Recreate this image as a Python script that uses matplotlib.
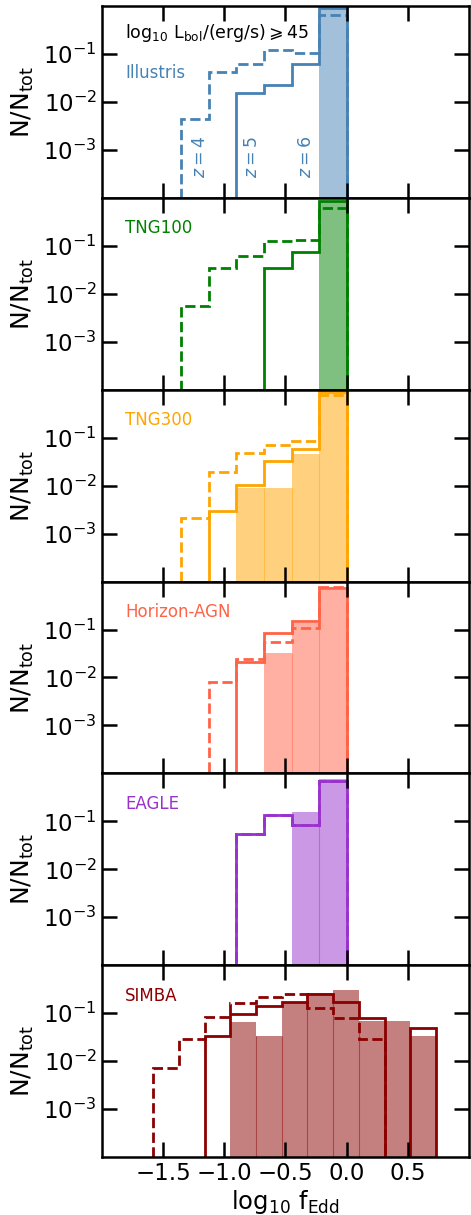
import numpy as np
from matplotlib import pyplot as plt

# bin edges in log10 f_Edd
edges_a = [-1.35, -1.125, -0.9, -0.675, -0.45, -0.225, 0.0]
edges_simba = [-1.58, -1.37, -1.16, -0.95, -0.74, -0.53, -0.32,
               -0.11, 0.10, 0.31, 0.52, 0.73]

names = ['Illustris', 'TNG100', 'TNG300', 'Horizon-AGN', 'EAGLE', 'SIMBA']
colors = ['steelblue', 'green', 'orange', 'tomato', 'darkorchid', 'darkred']

# N/N_tot per bin, z=4 (dashed), z=5 (solid), z=6 (filled)
illustris_z4 = [4.4e-3, 0.043, 0.062, 0.12, 0.105, 0.66]
illustris_z5 = [0, 0, 0.0154, 0.0225, 0.062, 0.91]
illustris_z6 = [0, 0, 0, 0, 0, 0.91]

tng100_z4 = [5.5e-3, 0.035, 0.062, 0.128, 0.134, 0.63]
tng100_z5 = [0, 0, 0, 0.035, 0.073, 0.87]
tng100_z6 = [0, 0, 0, 0, 0, 0.87]

tng300_z4 = [2.1e-3, 0.019, 0.048, 0.069, 0.087, 0.76]
tng300_z5 = [0, 2.9e-3, 0.0105, 0.033, 0.057, 0.89]
tng300_z6 = [0, 0, 0.0091, 0.0089, 0.046, 0.85]

hagn_z4 = [0, 7.9e-3, 0.024, 0.056, 0.107, 0.78]
hagn_z5 = [0, 0, 0.0215, 0.084, 0.15, 0.75]
hagn_z6 = [0, 0, 0, 0.033, 0.14, 0.67]

eagle_z4 = [0, 0, 0.055, 0.138, 0.082, 0.69]
eagle_z5 = [0, 0, 0.055, 0.138, 0.082, 0.69]
eagle_z6 = [0, 0, 0, 0, 0.158, 0.78]

simba_z4 = [7.2e-3, 0.0294, 0.085, 0.161, 0.214, 0.247, 0.13, 0.081, 0.0294, 0, 0]
simba_z5 = [0, 0, 0.033, 0.095, 0.144, 0.174, 0.247, 0.174, 0.081, 0, 0.049]
simba_z6 = [0, 0, 0, 0.067, 0.034, 0.167, 0.26, 0.30, 0.069, 0.069, 0.034]

data = [
    (edges_a, illustris_z4, illustris_z5, illustris_z6),
    (edges_a, tng100_z4, tng100_z5, tng100_z6),
    (edges_a, tng300_z4, tng300_z5, tng300_z6),
    (edges_a, hagn_z4, hagn_z5, hagn_z6),
    (edges_a, eagle_z4, eagle_z5, eagle_z6),
    (edges_simba, simba_z4, simba_z5, simba_z6),
]

floor = 1e-8
fig, axes = plt.subplots(6, 1, figsize=(4.71, 12.15), dpi=100, sharex=True)
fig.subplots_adjust(left=0.216, right=0.996, top=0.995, bottom=0.0477, hspace=0)

for i, ax in enumerate(axes):
    edges, v4, v5, v6 = data[i]
    c = colors[i]
    edges = np.array(edges)
    v6 = np.array(v6)
    m = v6 > 0
    ax.bar(edges[:-1][m], v6[m], width=np.diff(edges)[m], align='edge',
           color=c, alpha=0.5, linewidth=0)
    # thin seams between neighbouring filled bins
    for j in range(1, len(v6)):
        if v6[j - 1] > 0 and v6[j] > 0:
            ax.vlines(edges[j], floor, min(v6[j - 1], v6[j]), color=c,
                      alpha=0.45, lw=0.8)
    ax.stairs(np.maximum(v5, floor), edges, baseline=floor, color=c, lw=2)
    ax.stairs(np.maximum(v4, floor), edges, baseline=floor, color=c, lw=2,
              linestyle='--')

    ax.set_yscale('log')
    ax.set_ylim(1e-4, 1)
    ax.set_xlim(-2, 1)
    ax.set_yticks([1e-3, 1e-2, 1e-1])
    ax.minorticks_off()
    ax.set_xticks([-1.5, -1.0, -0.5, 0.0, 0.5])
    ax.tick_params(direction='in', length=11, width=1.8, top=True, right=True,
                   labelsize=16.5)
    for s in ax.spines.values():
        s.set_linewidth(1.8)
    ax.set_ylabel(r'$\mathrm{N/N_{tot}}$', fontsize=18, labelpad=5)

    ytxt = 0.623 if i == 0 else 0.815
    ax.text(0.063, ytxt, names[i], transform=ax.transAxes, color=c,
            fontsize=12)

axes[0].text(0.063, 0.832, r'$\mathrm{\log_{10}\,L_{bol}/(erg/s)}\geqslant 45$',
             transform=axes[0].transAxes, fontsize=12.5)
for zx, lab in zip([-1.195, -0.776, -0.33], ['4', '5', '6']):
    axes[0].text(zx, 10 ** (-3.15), r'$z = %s$' % lab, rotation=90,
                 ha='center', va='center', color=colors[0], fontsize=12.5)

axes[-1].set_xlabel(r'$\mathrm{\log_{10}\,f_{Edd}}$', fontsize=17.5, labelpad=2)

plt.savefig('out.png', dpi=100)
